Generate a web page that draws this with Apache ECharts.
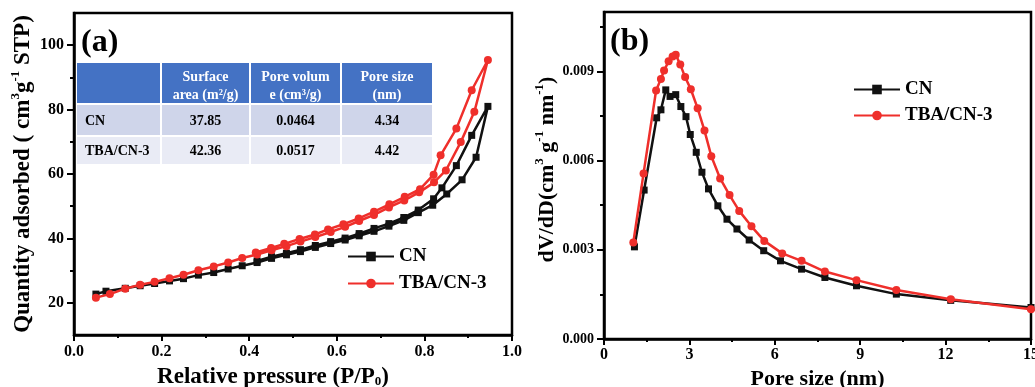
<!DOCTYPE html>
<html>
<head>
<meta charset="utf-8">
<script src="https://cdn.jsdelivr.net/npm/echarts@6/dist/echarts.min.js"></script>
<style>
html,body{margin:0;padding:0;background:#fff;}
#chart{width:1035px;height:387px;}
</style>
</head>
<body>
<div id="chart"></div>
<script>
// ---------- Panel (a): N2 isotherms (adsorption branch then desorption branch) ----------
const cnPressure = [0.05,0.073,0.117,0.151,0.184,0.218,0.25,0.284,0.319,0.352,0.384,0.418,0.451,0.485,0.517,0.551,0.586,0.619,0.651,0.685,0.719,0.753,0.786,0.819,0.851,0.886,0.918,0.945,
                    0.908,0.873,0.840,0.821,0.786,0.753,0.719,0.685,0.651,0.619,0.586,0.551,0.517,0.485,0.451,0.418];
const cnAdsorbed = [22.7,23.6,24.5,25.3,26.0,26.8,27.5,28.6,29.4,30.5,31.5,32.5,33.8,34.9,35.9,37.2,38.4,39.5,40.8,42.2,43.8,45.6,48.0,50.3,53.8,58.2,65.2,81.0,
                    72.0,62.6,55.7,52.3,48.8,46.5,44.6,43.1,41.5,40.1,39.0,37.8,36.5,35.4,34.3,33.0];
const tbaPressure = [0.05,0.082,0.117,0.151,0.184,0.218,0.25,0.284,0.319,0.352,0.384,0.418,0.451,0.485,0.517,0.551,0.586,0.619,0.651,0.685,0.719,0.754,0.788,0.822,0.849,0.883,0.914,0.945,
                     0.908,0.873,0.837,0.821,0.79,0.755,0.72,0.685,0.65,0.615,0.58,0.55,0.515,0.48,0.45,0.415];
const tbaAdsorbed = [21.6,22.7,24.4,25.6,26.5,27.6,28.7,30.1,31.3,32.5,33.9,35.0,36.3,37.6,39.0,40.4,42.0,43.6,45.4,47.3,49.6,51.8,54.3,57.4,61.1,69.9,79.3,95.4,
                     86.0,74.1,65.8,59.8,55.3,52.9,50.6,48.3,46.2,44.4,42.8,41.2,39.8,38.3,37.0,35.6];

// ---------- Panel (b): pore size distribution ----------
const cnPoreSize = [1.07,1.41,1.85,2.0,2.17,2.32,2.52,2.70,2.88,3.03,3.24,3.44,3.67,4.0,4.32,4.67,5.1,5.61,6.2,6.94,7.76,8.87,10.27,12.18,15.0];
const cnDVdD     = [0.0031,0.00501,0.00744,0.00771,0.00838,0.00816,0.00822,0.00782,0.00748,0.00688,0.00628,0.00561,0.00505,0.00448,0.00403,0.0037,0.00333,0.00297,0.00263,0.00235,0.00207,0.00179,0.00151,0.0013,0.00106];
const tbaPoreSize = [1.03,1.39,1.83,2.0,2.11,2.27,2.41,2.52,2.68,2.85,3.05,3.29,3.53,3.77,4.08,4.41,4.75,5.18,5.63,6.26,6.94,7.76,8.87,10.27,12.18,15.0];
const tbaDVdD     = [0.00325,0.00557,0.00836,0.00875,0.00903,0.00934,0.0095,0.00956,0.00923,0.00881,0.0084,0.00776,0.00701,0.00615,0.0054,0.00484,0.00431,0.00379,0.0033,0.00288,0.00263,0.00227,0.00198,0.00165,0.00134,0.001];

// ---------- Ticks ----------
const aXTicks = [0, 0.2, 0.4, 0.6, 0.8, 1.0];
const aYTicks = [20, 40, 60, 80, 100];
const aYMinorTicks = [30, 50, 70, 90];
const bXTicks = [0, 3, 6, 9, 12, 15];
const bYTicks = [0, 0.003, 0.006, 0.009];
const bYMinorTicks = [0.0015, 0.0045, 0.0075, 0.0105];

// ---------- Inset table ----------
const tableHeader = ['', 'Surface\narea (m²/g)', 'Pore volum\ne (cm³/g)', 'Pore size\n(nm)'];
const tableRows = [
  ['CN', '37.85', '0.0464', '4.34'],
  ['TBA/CN-3', '42.36', '0.0517', '4.42']
];

const seriesNames = ['CN', 'TBA/CN-3'];
const panelLabels = ['(a)', '(b)'];

// ---------------------------------------------------------------
const FONT = '"Liberation Serif", "Times New Roman", serif';
const BLACK = '#111111';
const RED = '#ef2f2b';

function zip(xs, ys) { return xs.map((x, i) => [x, ys[i]]); }

const chart = echarts.init(document.getElementById('chart'), null, {renderer: 'canvas'});

const labelStyle = (size) => ({fontFamily: FONT, fontWeight: 'bold', fontSize: size, color: '#000'});
const supRich = (size, raise) => ({
  sup: {fontFamily: FONT, fontWeight: 'bold', fontSize: size, color: '#000', padding: [0, 0, raise * 2, 0]},
  sub: {fontFamily: FONT, fontWeight: 'bold', fontSize: size, color: '#000', padding: [raise * 2, 0, 0, 0]}
});

// table graphics
const colEdges = [[77,160],[162,249],[251,340],[342,432]];
const rowEdges = [[63,103],[105,135],[137,164]];
const rowFills = ['#4472C4', '#CFD5EA', '#E9EBF5'];
const tableGraphics = [];
[tableHeader].concat(tableRows).forEach((row, r) => {
  row.forEach((txt, c) => {
    const [x0, x1] = colEdges[c];
    const [y0, y1] = rowEdges[r];
    tableGraphics.push({type: 'rect', shape: {x: x0, y: y0, width: x1 - x0, height: y1 - y0}, style: {fill: rowFills[r]}, silent: true, z: 10});
    if (txt) {
      const left = (c === 0);
      tableGraphics.push({
        type: 'text', z: 11, silent: true,
        style: {
          text: txt,
          x: left ? x0 + 8 : (x0 + x1) / 2,
          y: (y0 + y1) / 2 + (r === 0 ? 3 : 1),
          textAlign: left ? 'left' : 'center',
          textVerticalAlign: 'middle', verticalAlign: 'middle',
          fill: r === 0 ? '#ffffff' : '#000000',
          font: 'bold 14px ' + FONT,
          lineHeight: 18
        }
      });
    }
  });
});

const option = {
  animation: false,
  backgroundColor: '#fff',
  grid: [
    {left: 74, top: 13, width: 438, height: 322, show: true, borderColor: '#000', borderWidth: 2.5, backgroundColor: 'transparent', containLabel: false, outerBoundsMode: 'none'},
    {left: 604, top: 12, width: 427, height: 327, show: true, borderColor: '#000', borderWidth: 2.5, backgroundColor: 'transparent', containLabel: false, outerBoundsMode: 'none'}
  ],
  xAxis: [
    {
      type: 'value', gridIndex: 0, min: 0, max: 1.0, interval: 0.2, position: 'bottom',
      name: 'Relative pressure (P/P{sub|0})', nameLocation: 'middle', nameGap: 31,
      nameTextStyle: Object.assign(labelStyle(23), {rich: supRich(13, 4), padding: [0, 40, 0, 0]}),
      axisLine: {show: true, onZero: false, lineStyle: {color: '#000', width: 2.5}},
      axisTick: {show: true, inside: false, length: 6, lineStyle: {width: 2, color: '#000'}, customValues: aXTicks},
      minorTick: {show: true, splitNumber: 2, length: 3, lineStyle: {width: 2, color: '#000'}},
      axisLabel: Object.assign(labelStyle(16), {margin: 9, customValues: aXTicks, formatter: v => v.toFixed(1)}),
      splitLine: {show: false}
    },
    {
      type: 'value', gridIndex: 1, min: 0, max: 15, interval: 3, position: 'bottom',
      name: 'Pore size (nm)', nameLocation: 'middle', nameGap: 27,
      nameTextStyle: labelStyle(22),
      axisLine: {show: true, onZero: false, lineStyle: {color: '#000', width: 2.5}},
      axisTick: {show: true, inside: false, length: 6, lineStyle: {width: 2, color: '#000'}, customValues: bXTicks},
      minorTick: {show: true, splitNumber: 2, length: 3, lineStyle: {width: 2, color: '#000'}},
      axisLabel: Object.assign(labelStyle(16), {margin: 8, customValues: bXTicks, formatter: v => String(v)}),
      splitLine: {show: false}
    }
  ],
  yAxis: [
    {
      type: 'value', gridIndex: 0, min: 10, max: 110, position: 'left',
      name: 'Quantity adsorbed ( cm{sup|3}g{sup|-1} STP)', nameLocation: 'middle', nameGap: 36,
      nameTextStyle: Object.assign(labelStyle(23), {rich: supRich(13, 8)}),
      axisLine: {show: true, onZero: false, lineStyle: {color: '#000', width: 2.5}},
      axisTick: {show: true, inside: false, length: 7, lineStyle: {width: 2, color: '#000'}, customValues: aYTicks},
      axisLabel: Object.assign(labelStyle(16), {margin: 10, customValues: aYTicks, formatter: v => String(v)}),
      splitLine: {show: false}
    },
    {
      type: 'value', gridIndex: 0, min: 10, max: 110, position: 'left',
      axisLine: {show: false},
      axisTick: {show: true, inside: false, length: 4, lineStyle: {width: 2, color: '#000'}, customValues: aYMinorTicks},
      axisLabel: {show: false},
      splitLine: {show: false}
    },
    {
      type: 'value', gridIndex: 1, min: 0, max: 0.011, position: 'left',
      name: 'dV/dD(cm{sup|3} g{sup|-1} nm{sup|-1})', nameLocation: 'middle', nameGap: 42,
      nameTextStyle: Object.assign(labelStyle(22), {rich: supRich(13, 8), padding: [0, 0, 0, 12]}),
      axisLine: {show: true, onZero: false, lineStyle: {color: '#000', width: 2.5}},
      axisTick: {show: true, inside: false, length: 7, lineStyle: {width: 2, color: '#000'}, customValues: bYTicks},
      axisLabel: Object.assign(labelStyle(14), {margin: 10, customValues: bYTicks, formatter: v => v.toFixed(3)}),
      splitLine: {show: false}
    },
    {
      type: 'value', gridIndex: 1, min: 0, max: 0.011, position: 'left',
      axisLine: {show: false},
      axisTick: {show: true, inside: false, length: 4, lineStyle: {width: 2, color: '#000'}, customValues: bYMinorTicks},
      axisLabel: {show: false},
      splitLine: {show: false}
    }
  ],
  legend: [
    {
      data: seriesNames, orient: 'vertical', left: 347, top: 247,
      itemWidth: 46, itemHeight: 12, itemGap: 8, padding: 0,
      textStyle: labelStyle(19), selectedMode: false
    },
    {
      data: seriesNames, orient: 'vertical', left: 853, top: 80,
      itemWidth: 46, itemHeight: 12, itemGap: 7, padding: 0,
      textStyle: labelStyle(19), selectedMode: false
    }
  ],
  graphic: [
    {type: 'text', left: 81, top: 27, z: 20, style: {text: panelLabels[0], font: 'bold 32px ' + FONT, fill: '#000'}},
    {type: 'text', left: 610, top: 26, z: 20, style: {text: panelLabels[1], font: 'bold 32px ' + FONT, fill: '#000'}}
  ].concat(tableGraphics),
  series: [
    {
      name: seriesNames[0], type: 'line', xAxisIndex: 0, yAxisIndex: 0,
      data: zip(cnPressure, cnAdsorbed),
      symbol: 'rect', symbolSize: 7, color: BLACK,
      lineStyle: {width: 2.5, color: BLACK}, itemStyle: {color: BLACK}, z: 3
    },
    {
      name: seriesNames[1], type: 'line', xAxisIndex: 0, yAxisIndex: 0,
      data: zip(tbaPressure, tbaAdsorbed),
      symbol: 'circle', symbolSize: 8, color: RED,
      lineStyle: {width: 2.5, color: RED}, itemStyle: {color: RED}, z: 4
    },
    {
      name: seriesNames[0], type: 'line', xAxisIndex: 1, yAxisIndex: 2,
      data: zip(cnPoreSize, cnDVdD),
      symbol: 'rect', symbolSize: 7, color: BLACK,
      lineStyle: {width: 2.5, color: BLACK}, itemStyle: {color: BLACK}, z: 3
    },
    {
      name: seriesNames[1], type: 'line', xAxisIndex: 1, yAxisIndex: 2,
      data: zip(tbaPoreSize, tbaDVdD),
      symbol: 'circle', symbolSize: 8, color: RED,
      lineStyle: {width: 2.5, color: RED}, itemStyle: {color: RED}, z: 4
    }
  ]
};
chart.setOption(option);
</script>
</body>
</html>
